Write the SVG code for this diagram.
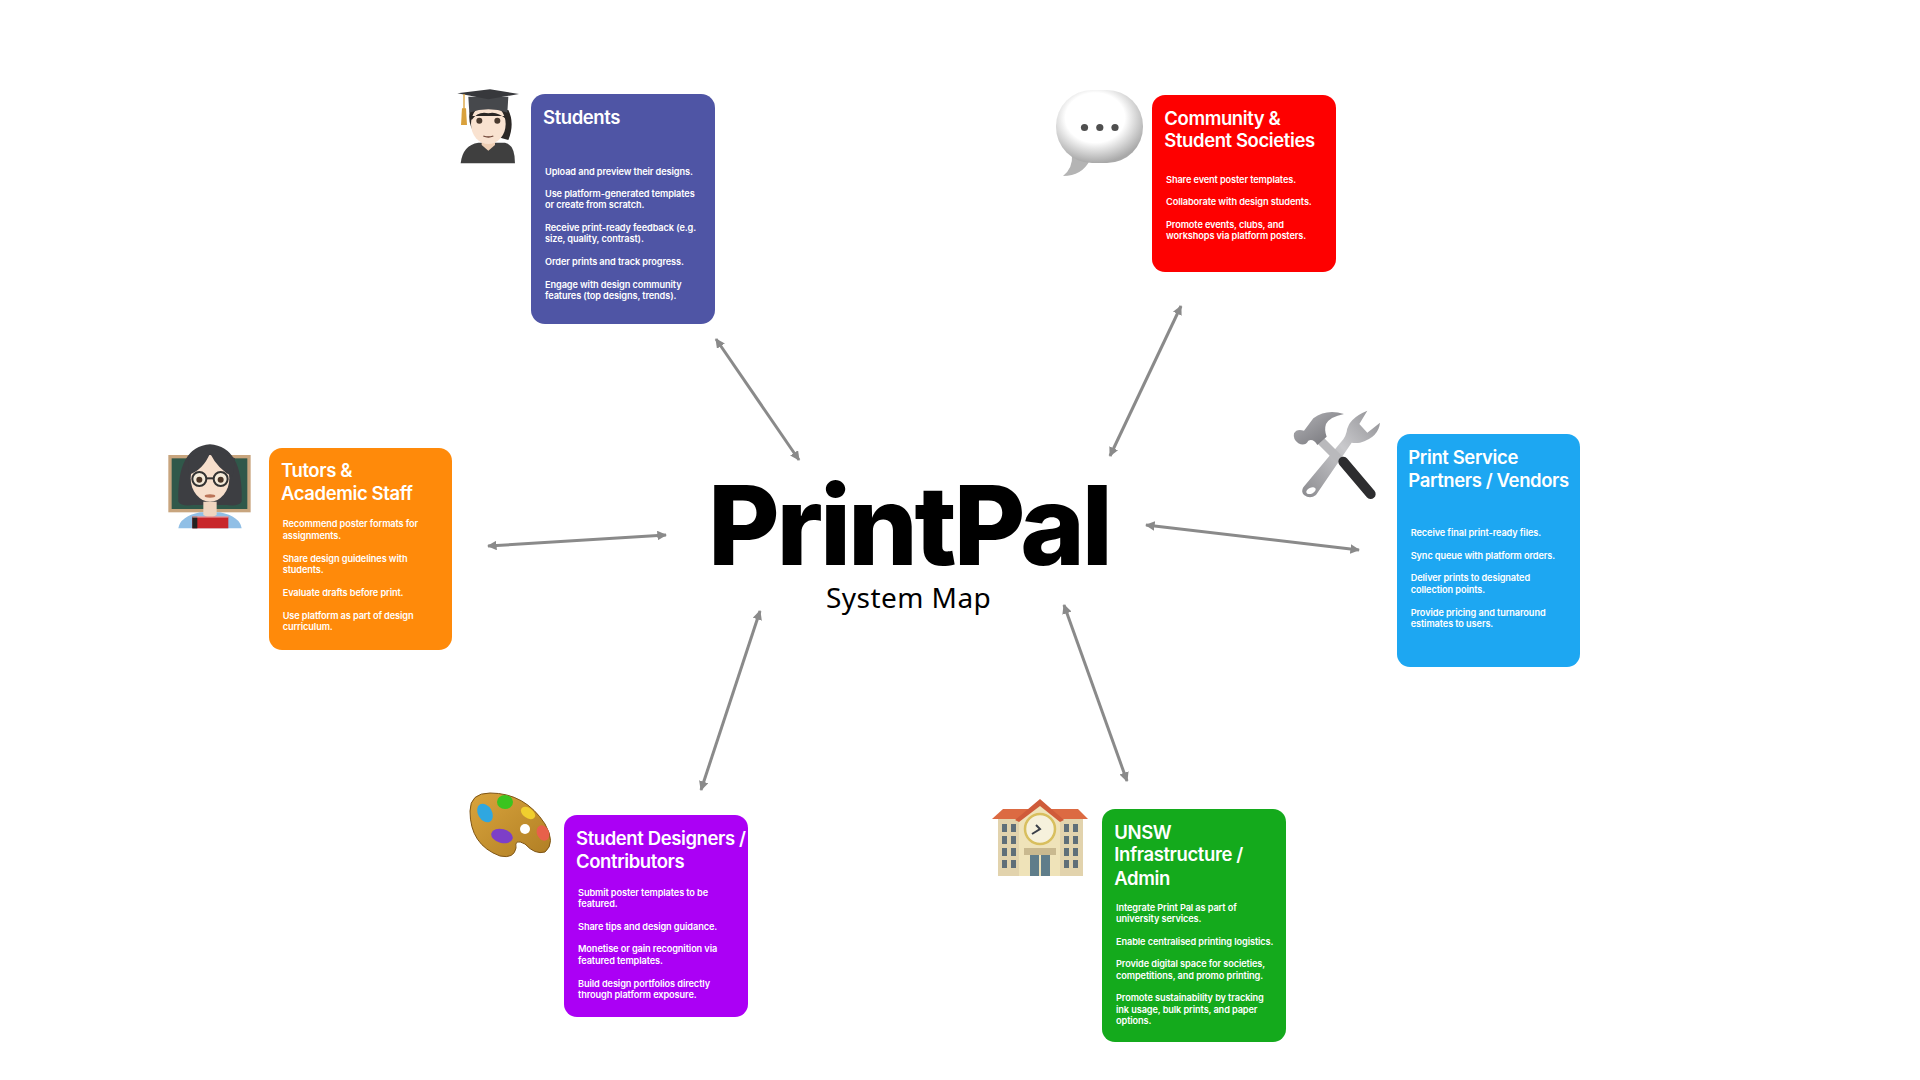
<svg xmlns="http://www.w3.org/2000/svg" width="1920" height="1080" viewBox="0 0 1920 1080">
<style>
text{font-family:Inter,"Liberation Sans",sans-serif;fill:#fff}
.t{font-size:18.5px;font-weight:600;letter-spacing:-.4px}
.b{font-size:9.2px;font-weight:600;letter-spacing:-.1px}
.c{stroke:#8a8a8a;stroke-width:3;fill:none;marker-start:url(#a);marker-end:url(#a)}
</style>
<defs>
<marker id="a" viewBox="0 0 10 10" refX="9" refY="5" markerWidth="3.2" markerHeight="3.2" orient="auto-start-reverse"><path d="M0 0L10 5L0 10Z" fill="#8a8a8a"/></marker>
<radialGradient id="bub" cx=".45" cy=".38" r=".62"><stop offset=".55" stop-color="#fff"/><stop offset="1" stop-color="#a9a9a9"/></radialGradient>
<linearGradient id="steel" x1="0" y1="1" x2="1" y2="0"><stop offset="0" stop-color="#8b8b8f"/><stop offset=".55" stop-color="#c9c9cc"/><stop offset="1" stop-color="#8f8f93"/></linearGradient>
<linearGradient id="head" x1="0" y1="0" x2="1" y2="1"><stop offset="0" stop-color="#b4b4b8"/><stop offset="1" stop-color="#6f6f74"/></linearGradient>
<linearGradient id="wood" x1="0" y1="0" x2="1" y2="1"><stop offset="0" stop-color="#d9a43c"/><stop offset="1" stop-color="#b07e24"/></linearGradient>
</defs>
<rect width="1920" height="1080" fill="#fff"/>
<g id="connectors">
<line class="c" x1="716" y1="339" x2="799" y2="460"/>
<line class="c" x1="1181" y1="306" x2="1110" y2="456"/>
<line class="c" x1="488" y1="546" x2="666" y2="535"/>
<line class="c" x1="1146" y1="525" x2="1359" y2="550"/>
<line class="c" x1="760" y1="611" x2="701" y2="790"/>
<line class="c" x1="1064" y1="605" x2="1127" y2="781"/>
</g>
<g id="center">
<text x="708" y="564.5" style="font-size:110px;font-weight:800;fill:#000;letter-spacing:-3.2px">PrintPal</text>
<text x="826" y="608" style="font-size:28px;font-weight:400;fill:#000;font-family:'Noto Sans',sans-serif;letter-spacing:.45px">System Map</text>
</g>
<g id="students">
<rect x="531" y="94" width="184" height="230" rx="14" fill="#4f55a5"/>
<text class="t" x="543" y="123.500">Students</text>
<g class="b"><text x="545" y="174.5">Upload and preview their designs.</text><text x="545" y="197">Use platform-generated templates</text><text x="545" y="208.3">or create from scratch.</text><text x="545" y="231">Receive print-ready feedback (e.g.</text><text x="545" y="242.3">size, quality, contrast).</text><text x="545" y="265">Order prints and track progress.</text><text x="545" y="287.7">Engage with design community</text><text x="545" y="299">features (top designs, trends).</text></g>
<g id="icon-student" transform="translate(450 80) scale(.3333)">
<path d="M32 250Q38 195 85 188H165Q195 195 195 250Z" fill="#3f3f3f"/>
<path d="M60 90H175Q195 130 175 180L140 170H80Q50 130 60 90Z" fill="#2b2725"/>
<path d="M95 170H135V195L115 212L95 195Z" fill="#efcfb5"/>
<ellipse cx="115" cy="132" rx="52" ry="60" fill="#f9e2d0"/>
<path d="M60 108H172L170 118Q140 92 115 100Q85 92 65 120Z" fill="#2b2725"/>
<circle cx="88" cy="122" r="9" fill="#4a3a2e"/><circle cx="142" cy="122" r="9" fill="#4a3a2e"/>
<path d="M100 168Q115 174 130 168" stroke="#6f4436" stroke-width="4" fill="none"/>
<path d="M55 50H175L172 98Q115 78 58 98Z" fill="#46484c"/>
<path d="M22 40L120 28L207 42L115 58Z" fill="#37383c"/>
<path d="M42 42V90" stroke="#d9a13c" stroke-width="4"/><path d="M36 85H48L51 135H33Z" fill="#d9a13c"/>
</g>
</g>
<g id="community">
<rect x="1152" y="95" width="184" height="177" rx="13" fill="#fe0000"/>
<text class="t" x="1164.3" y="125">Community &amp;</text><text class="t" x="1164.3" y="147.200">Student Societies</text>
<g class="b"><text x="1166" y="182.7">Share event poster templates.</text><text x="1166" y="205">Collaborate with design students.</text><text x="1166" y="228">Promote events, clubs, and</text><text x="1166" y="239.3">workshops via platform posters.</text></g>
<g id="icon-bubble">
<path d="M1072 155Q1073 168 1063 176Q1082 176 1090 160Z" fill="#b4b4b4"/>
<rect x="1056" y="90" width="87" height="73" rx="36" fill="url(#bub)"/>
<circle cx="1084.5" cy="127.500" r="3.600" fill="#4f4f4f"/><circle cx="1099.800" cy="127.500" r="3.600" fill="#4f4f4f"/><circle cx="1115" cy="127.500" r="3.600" fill="#4f4f4f"/>
</g>
</g>
<g id="tutors">
<rect x="269" y="448" width="183" height="202" rx="13" fill="#ff8a0a"/>
<text class="t" x="281" y="476.700">Tutors &amp;</text><text class="t" x="281" y="499.700">Academic Staff</text>
<g class="b"><text x="282.7" y="527.300">Recommend poster formats for</text><text x="282.7" y="538.700">assignments.</text><text x="282.7" y="561.700">Share design guidelines with</text><text x="282.7" y="573">students.</text><text x="282.7" y="596">Evaluate drafts before print.</text><text x="282.7" y="618.700">Use platform as part of design</text><text x="282.7" y="630">curriculum.</text></g>
<g id="icon-teacher" transform="translate(160 435) scale(.3333)">
<rect x="25" y="60" width="247" height="172" fill="#c8a57e"/><rect x="35" y="70" width="227" height="152" fill="#30584a"/>
<path d="M55 280Q60 245 120 232H180Q240 245 245 280Z" fill="#90bfe6"/>
<path d="M55 200Q50 35 150 28Q250 35 245 200Q235 215 200 210H100Q65 215 55 200Z" fill="#3d3e42"/>
<path d="M130 200H170V240L150 250L130 240Z" fill="#efd5c0"/>
<ellipse cx="150" cy="130" rx="58" ry="70" fill="#f7dfcc"/>
<path d="M85 120Q130 105 150 55Q175 105 218 125L225 70L150 40L85 70Z" fill="#3d3e42"/>
<circle cx="118" cy="132" r="21" fill="#f4ead9" stroke="#333" stroke-width="6"/><circle cx="182" cy="132" r="21" fill="#f4ead9" stroke="#333" stroke-width="6"/>
<path d="M139 130H161" stroke="#333" stroke-width="6"/>
<circle cx="118" cy="134" r="9" fill="#4b3527"/><circle cx="182" cy="134" r="9" fill="#4b3527"/>
<ellipse cx="150" cy="183" rx="16" ry="5" fill="#bb7458"/>
<rect x="97" y="245" width="108" height="35" fill="#c8262b"/><rect x="97" y="245" width="15" height="35" fill="#222"/><path d="M97 246H205" stroke="#f2b6b6" stroke-width="3"/>
</g>
</g>
<g id="vendors">
<rect x="1397" y="434" width="183" height="233" rx="13" fill="#1da7f2"/>
<text class="t" x="1408.3" y="463.8">Print Service</text><text class="t" x="1408.3" y="486.700">Partners / Vendors</text>
<g class="b"><text x="1410.7" y="536">Receive final print-ready files.</text><text x="1410.7" y="559">Sync queue with platform orders.</text><text x="1410.7" y="581.3">Deliver prints to designated</text><text x="1410.7" y="593">collection points.</text><text x="1410.7" y="615.700">Provide pricing and turnaround</text><text x="1410.7" y="627">estimates to users.</text></g>
<g id="icon-tools" transform="translate(1280 400) scale(.3333)">
<path d="M70 262L190 118Q196 110 200 95Q205 55 262 32L238 72L262 98L300 68Q296 112 240 128Q225 130 215 128L108 285Q90 298 72 285Q62 275 70 262Z" fill="url(#steel)"/>
<ellipse cx="93" cy="272" rx="15" ry="9" fill="#fff" transform="rotate(-25 93 272)"/>
<path d="M120 120L180 180" stroke="#b9b9bc" stroke-width="26"/>
<path d="M190 185L272 282" stroke="#2d2d2f" stroke-width="30" stroke-linecap="round"/>
<path d="M42 100Q50 85 72 92L100 55Q140 25 192 42Q150 50 138 72Q132 90 140 110L112 135Q100 115 85 122Q75 140 55 130Q38 118 42 100Z" fill="url(#head)"/>
</g>
</g>
<g id="designers">
<rect x="564" y="815" width="184" height="202" rx="13" fill="#ab00f5"/>
<text class="t" x="576" y="845">Student Designers /</text><text class="t" x="576" y="867.500">Contributors</text>
<g class="b"><text x="578" y="895.7">Submit poster templates to be</text><text x="578" y="906.7">featured.</text><text x="578" y="930">Share tips and design guidance.</text><text x="578" y="952.3">Monetise or gain recognition via</text><text x="578" y="964">featured templates.</text><text x="578" y="986.7">Build design portfolios directly</text><text x="578" y="997.7">through platform exposure.</text></g>
<g id="icon-palette">
<path d="M470 811Q470 793 490 793Q525 793 545 824Q556 843 545 852Q535 855 525 844Q514 838 516 848Q514 859 500 856Q470 845 470 811Z" fill="url(#wood)" stroke="#7f5515" stroke-width="1"/>
<ellipse cx="485" cy="813" rx="7" ry="10" fill="#2fa7e0" transform="rotate(-30 485 813)"/>
<ellipse cx="505" cy="802" rx="8" ry="7" fill="#3ac41f"/>
<ellipse cx="528" cy="813" rx="8" ry="5" fill="#f0cf2e" transform="rotate(35 528 813)"/>
<ellipse cx="543" cy="833" rx="6" ry="8" fill="#e8604a" transform="rotate(-25 543 833)"/>
<ellipse cx="502" cy="836" rx="11" ry="7" fill="#7d3fc8" transform="rotate(15 502 836)"/>
<circle cx="525" cy="829" r="5" fill="#fff"/>
</g>
</g>
<g id="unsw">
<rect x="1102" y="809" width="184" height="233" rx="13" fill="#14aa1c"/>
<text class="t" x="1114.3" y="838.700">UNSW</text><text class="t" x="1114.3" y="861.300">Infrastructure /</text><text class="t" x="1114.3" y="884.500">Admin</text>
<g class="b"><text x="1116" y="911">Integrate Print Pal as part of</text><text x="1116" y="922">university services.</text><text x="1116" y="944.7">Enable centralised printing logistics.</text><text x="1116" y="967.3">Provide digital space for societies,</text><text x="1116" y="978.7">competitions, and promo printing.</text><text x="1116" y="1001.3">Promote sustainability by tracking</text><text x="1116" y="1012.7">ink usage, bulk prints, and paper</text><text x="1116" y="1024.3">options.</text></g>
<g id="icon-building">
<rect x="998" y="818" width="85" height="58" fill="#e2d3ad"/>
<path d="M992 819L1003 809H1078L1088 819Z" fill="#dc6a42"/>
<path d="M1019 822L1040 801L1060 822V876H1019Z" fill="#efe3b9"/>
<path d="M1015 820L1040 799L1064 820L1060 822L1040 806L1019 822Z" fill="#cf5b3a"/>
<circle cx="1040" cy="829" r="15" fill="#f6f1dc" stroke="#d8bf5e" stroke-width="2.500"/>
<path d="M1032 834L1040 829L1036 825" stroke="#3a3f48" stroke-width="2" fill="none"/>
<rect x="1024" y="848" width="32" height="7" fill="#c9b98f"/>
<rect x="1030" y="855" width="9" height="21" fill="#5f7d8a"/><rect x="1041" y="855" width="9" height="21" fill="#5f7d8a"/>
<g fill="#5f6e78"><rect x="1002" y="824" width="5" height="8"/><rect x="1011" y="824" width="5" height="8"/><rect x="1002" y="836" width="5" height="8"/><rect x="1011" y="836" width="5" height="8"/><rect x="1002" y="848" width="5" height="8"/><rect x="1011" y="848" width="5" height="8"/><rect x="1002" y="860" width="5" height="8"/><rect x="1011" y="860" width="5" height="8"/><rect x="1064" y="824" width="5" height="8"/><rect x="1073" y="824" width="5" height="8"/><rect x="1064" y="836" width="5" height="8"/><rect x="1073" y="836" width="5" height="8"/><rect x="1064" y="848" width="5" height="8"/><rect x="1073" y="848" width="5" height="8"/><rect x="1064" y="860" width="5" height="8"/><rect x="1073" y="860" width="5" height="8"/></g>
</g>
</g>
</svg>
